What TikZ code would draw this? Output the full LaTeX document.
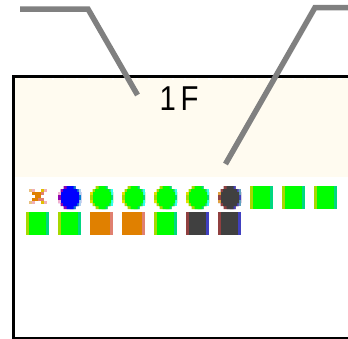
\documentclass[tikz,border=0pt]{standalone}
\usepackage{fontspec}
\setmainfont{Liberation Sans}
\definecolor{cream}{HTML}{FFFBF0}
\definecolor{leadgray}{HTML}{808080}
\definecolor{gcore}{HTML}{00FF00}
\definecolor{gleft}{HTML}{A6D800}
\definecolor{gright}{HTML}{00D880}
\definecolor{gcl}{HTML}{E0E000}
\definecolor{gcr}{HTML}{30FFF0}
\definecolor{orcore}{HTML}{E08000}
\definecolor{orright}{HTML}{E08070}
\definecolor{dkcore}{HTML}{404040}
\definecolor{dkleft}{HTML}{904040}
\definecolor{dkright}{HTML}{4040C0}
\definecolor{dkcl}{HTML}{E0A040}
\definecolor{dkcr}{HTML}{60A0C0}
\definecolor{blcore}{HTML}{0000FF}
\definecolor{blleft}{HTML}{9000B0}
\definecolor{blright}{HTML}{0080D0}
\definecolor{blcl}{HTML}{F0B0D0}
\definecolor{blcr}{HTML}{B0D0F0}
\definecolor{tan}{HTML}{E8C080}
\definecolor{pinkish}{HTML}{F0B0B8}
\definecolor{yel}{HTML}{E0C000}
\tikzset{
  leader/.style={draw=leadgray,line width=5.5pt,line join=miter,line cap=butt},
  frameline/.style={draw=black,line width=3pt},
  label1f/.style={inner sep=0pt,font=\fontsize{34.5}{34.5}\selectfont}
}
% stair-stepped disc: centre x, row half-widths a b c
\newcommand\stair[4]{(#1-#2,186) -- (#1+#2,186) -- (#1+#2,189) -- (#1+#3,189) -- (#1+#3,192) -- (#1+#4,192) -- (#1+#4,203) -- (#1+#3,203) -- (#1+#3,206) -- (#1+#2,206) -- (#1+#2,209) -- (#1-#2,209) -- (#1-#2,206) -- (#1-#3,206) -- (#1-#3,203) -- (#1-#4,203) -- (#1-#4,192) -- (#1-#3,192) -- (#1-#3,189) -- (#1-#2,189) -- cycle}
% centre, core, left fringe, right fringe, left corner, right corner
\newcommand\disc[6]{%
  \fill[#3] \stair{#1}{6}{9}{11.5};
  \begin{scope}
    \clip (#1,180) rectangle (#1+14,215);
    \fill[#4] \stair{#1}{6}{9}{11.5};
  \end{scope}
  \fill[#5] (#1-11.5,192) rectangle (#1-8.5,195);
  \fill[#5] (#1-11.5,200) rectangle (#1-8.5,203);
  \fill[#6] (#1+9,189) rectangle (#1+11.5,195);
  \fill[#6] (#1+9,200) rectangle (#1+11.5,206);
  \fill[#2] \stair{#1+0.5}{3.5}{7}{9};
}
% square: left edge, top, core, left strip, right strip
\newcommand\tile[5]{%
  \fill[#3] (#1,#2) rectangle (#1+23,#2+23);
  \fill[#4] (#1,#2) rectangle (#1+3,#2+23);
  \fill[#5] (#1+20,#2) rectangle (#1+23,#2+23);
}
\newcommand\cell[3]{\fill[#3] (29+3*#1,189+3*#2) rectangle (32+3*#1,192+3*#2);}
\begin{document}
\begin{tikzpicture}[x=1pt,y=-1pt]
\useasboundingbox (0,0) rectangle (348,338);
\fill[white] (0,0) rectangle (348,338);
% floor band
\fill[cream] (15,78) rectangle (348,177);
\foreach \d in {29,41,...,341} \fill[white] (\d-1,78) rectangle (\d+1,80);
% frame
\draw[frameline] (348,76.5) -- (13.5,76.5) -- (13.5,338.5) -- (348,338.5);
\node[label1f,anchor=base west] (floorlabel) at (159.5,110) {\scalebox{.85}[1]{1\kern5.5pt F}};
% cross
\cell{0}{0}{tan}\cell{1}{0}{pinkish}\cell{4}{0}{yel}\cell{5}{0}{pinkish}
\cell{1}{1}{orcore}\cell{2}{1}{orcore}\cell{3}{1}{orcore}\cell{4}{1}{orright}
\cell{2}{2}{orcore}\cell{3}{2}{orcore}
\cell{1}{3}{orcore}\cell{2}{3}{orcore}\cell{3}{3}{orright}\cell{4}{3}{orright}
\cell{0}{4}{tan}\cell{1}{4}{pinkish}\cell{4}{4}{yel}\cell{5}{4}{pinkish}
% discs, row 1
\disc{69.5}{blcore}{blleft}{blright}{blcl}{blcr}
\disc{101.5}{gcore}{gleft}{gright}{gcl}{gcr}
\disc{133.5}{gcore}{gleft}{gright}{gcl}{gcr}
\disc{165.5}{gcore}{gleft}{gright}{gcl}{gcr}
\disc{197.5}{gcore}{gleft}{gright}{gcl}{gcr}
\disc{229.5}{dkcore}{dkleft}{dkright}{dkcl}{dkcr}
% squares, row 1
\tile{250}{186}{gcore}{gleft}{gright}
\tile{282}{186}{gcore}{gleft}{gright}
\tile{314}{186}{gcore}{gleft}{gright}
% squares, row 2
\tile{26}{212}{gcore}{gleft}{gright}
\tile{58}{212}{gcore}{gleft}{gright}
\tile{90}{212}{orcore}{orcore}{orright}
\tile{122}{212}{orcore}{orcore}{orright}
\tile{154}{212}{gcore}{gleft}{gright}
\tile{186}{212}{dkcore}{dkleft}{dkright}
\tile{218}{212}{dkcore}{dkleft}{dkright}
% leaders
\draw[leader] (20,9) -- (88,9) -- (137.5,95);
\draw[leader] (348,7.5) -- (315,7.5) -- (225.5,164);
\end{tikzpicture}
\end{document}
